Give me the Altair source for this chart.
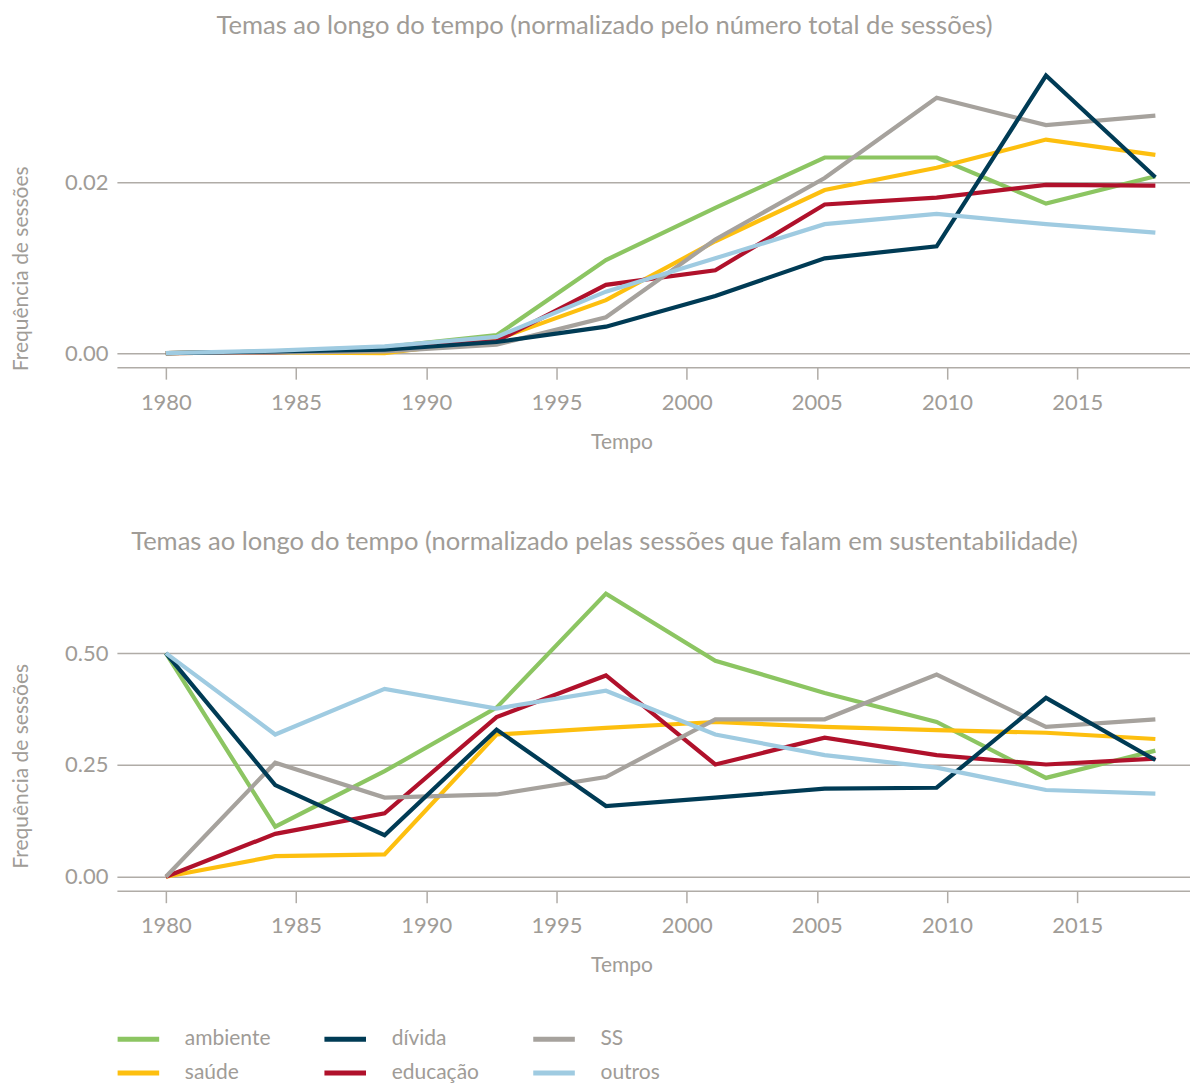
import altair as alt
import pandas as pd

# ---------------- data ----------------
years = [1980.0, 1984.2, 1988.4, 1992.7, 1996.9, 2001.1, 2005.3, 2009.6, 2013.8, 2018.0]

# normalised by the total number of sessions
top_ambiente = [0.0, 0.0002, 0.0007, 0.0021, 0.0109, 0.0170, 0.0229, 0.0229, 0.0175, 0.0207]
top_saude    = [0.0, 0.0001, 0.0000, 0.0016, 0.0062, 0.0131, 0.0191, 0.0217, 0.0250, 0.0232]
top_divida   = [0.0, 0.0002, 0.0004, 0.0013, 0.0031, 0.0067, 0.0111, 0.0125, 0.0325, 0.0206]
top_educacao = [0.0, 0.0001, 0.0005, 0.0014, 0.0080, 0.0097, 0.0174, 0.0182, 0.0197, 0.0196]
top_ss       = [0.0, 0.0001, 0.0002, 0.0010, 0.0042, 0.0133, 0.0205, 0.0299, 0.0267, 0.0278]
top_outros   = [0.0, 0.0003, 0.0008, 0.0019, 0.0072, 0.0111, 0.0151, 0.0163, 0.0151, 0.0141]

# normalised by the sessions that mention sustainability
bot_ambiente = [0.500, 0.112, 0.236, 0.378, 0.633, 0.483, 0.411, 0.346, 0.221, 0.282]
bot_saude    = [0.000, 0.046, 0.050, 0.318, 0.333, 0.346, 0.335, 0.328, 0.322, 0.308]
bot_divida   = [0.500, 0.205, 0.093, 0.329, 0.158, 0.177, 0.197, 0.199, 0.400, 0.261]
bot_educacao = [0.000, 0.096, 0.142, 0.357, 0.450, 0.251, 0.311, 0.272, 0.251, 0.264]
bot_ss       = [0.000, 0.255, 0.177, 0.184, 0.223, 0.352, 0.352, 0.452, 0.335, 0.352]
bot_outros   = [0.500, 0.318, 0.420, 0.376, 0.416, 0.318, 0.272, 0.244, 0.194, 0.186]

# drawing order (last on top)
draw_order = ["ambiente", "saúde", "educação", "SS", "dívida", "outros"]
top_series = {"ambiente": top_ambiente, "saúde": top_saude, "dívida": top_divida,
              "educação": top_educacao, "SS": top_ss, "outros": top_outros}
bot_series = {"ambiente": bot_ambiente, "saúde": bot_saude, "dívida": bot_divida,
              "educação": bot_educacao, "SS": bot_ss, "outros": bot_outros}

# legend order (row-wise, 3 columns)
legend_order = ["ambiente", "dívida", "SS", "saúde", "educação", "outros"]
legend_colors = ["#8cc562", "#003b55", "#a6a29d", "#fdbf0f", "#b0112b", "#9fcbe1"]

x_ticks = [1980, 1985, 1990, 1995, 2000, 2005, 2010, 2015]


def to_df(series):
    rows = []
    for name in draw_order:
        for yr, v in zip(years, series[name]):
            rows.append({"ano": yr, "tema": name, "valor": v})
    return pd.DataFrame(rows)


FONT = "Lato"
GREY = "#a09c97"
LINE_GREY = "#b0aca7"

X_DOMAIN = [1978.12, 2019.33]


def panel(df, title, ydom, yvals, h, ytitle_y, show_legend):
    if show_legend:
        legend = alt.Legend(
            title=None, orient="none", legendX=6, legendY=963, padding=0,
            direction="horizontal", columns=3,
            symbolType="M-1.6,0L1.6,0", symbolSize=676, symbolStrokeWidth=5,
            labelFont=FONT, labelFontSize=21, labelColor=GREY, labelOffset=31,
            columnPadding=43, rowPadding=8,
        )
    else:
        legend = None
    return alt.Chart(df).mark_line(strokeWidth=4.2).encode(
        x=alt.X("ano:Q",
                scale=alt.Scale(domain=X_DOMAIN, nice=False, zero=False),
                axis=alt.Axis(values=x_ticks, format="d", title="Tempo", grid=False,
                              tickSize=12, labelPadding=13, titlePadding=18,
                              titleX=505)),
        y=alt.Y("valor:Q",
                scale=alt.Scale(domain=ydom, nice=False, zero=False),
                axis=alt.Axis(values=yvals, format=".2f", title="Frequência de sessões",
                              grid=True, domain=False, ticks=False, labelPadding=9,
                              titleX=-85, titleY=ytitle_y)),
        color=alt.Color("tema:N",
                        scale=alt.Scale(domain=legend_order, range=legend_colors),
                        legend=legend),
    ).properties(
        width=1074, height=h,
        title=alt.TitleParams(title, dx=-49, offset=22),
    )


top = panel(to_df(top_series),
            "Temas ao longo do tempo (normalizado pelo número total de sessões)",
            [-0.00164, 0.03415], [0.0, 0.02], 306, 207, True)
bottom = panel(to_df(bot_series),
               "Temas ao longo do tempo (normalizado pelas sessões que falam em sustentabilidade)",
               [-0.0312, 0.668], [0.0, 0.25, 0.5], 313, 188, False)

chart = alt.vconcat(top, bottom, spacing=78).properties(
    padding={"left": 3, "top": 5, "right": 0, "bottom": 0}
).configure_view(stroke=None).configure_axis(
    labelFont=FONT, labelFontSize=22, labelColor=GREY,
    titleFont=FONT, titleFontSize=21, titleColor=GREY, titleFontWeight="normal",
    domainColor=LINE_GREY, domainWidth=1.5, tickColor=LINE_GREY, tickWidth=1.5,
    gridColor=LINE_GREY, gridWidth=1.5,
).configure_title(
    font=FONT, fontSize=25.6, color=GREY, fontWeight="normal", anchor="middle",
)

chart.save("out.html", embed_options={"renderer": "svg", "actions": False})
